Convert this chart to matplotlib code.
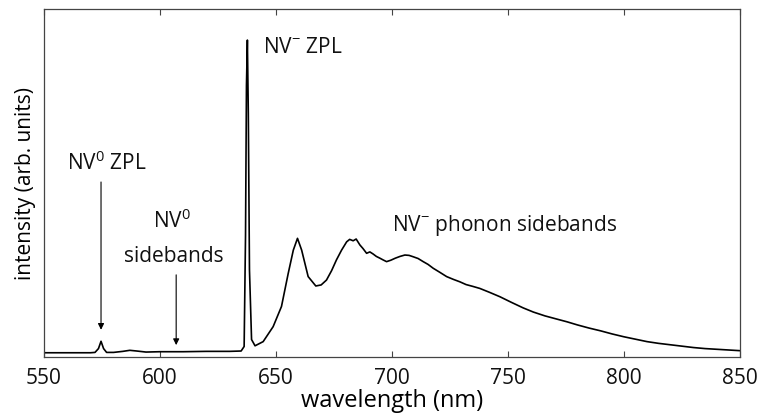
import matplotlib
matplotlib.use("Agg")
import matplotlib.pyplot as plt

# spectrum (wavelength in nm, intensity arb. units)
wavelength = [550, 560, 570, 572, 573.5, 574.6, 575.7, 577, 580, 584, 587, 590, 594,
              600, 610, 620, 630, 635, 636.3, 636.9, 637.3, 637.7, 638.1, 638.6, 639.5,
              641, 644.5, 648.8, 652.4, 655.3, 657.5, 659.3, 661.1, 663.9, 667.2, 669.5,
              671.8, 674, 676.1, 678.3, 680.5, 681.8, 683.3, 684.6, 686.2, 687.5, 689.1,
              690.5, 691.9, 693.3, 694.8, 696.2, 697.7, 699.5, 701.5, 703.5, 705.6, 707.4,
              709.2, 711.3, 713.5, 715.6, 717.8, 720.5, 723.6, 726.5, 729.3, 732, 734.8,
              737.9, 742, 746.6, 751.5, 756.6, 761, 766, 771, 775.5, 780, 785, 790,
              795, 800, 805, 810, 815, 820, 825, 830, 835, 840, 845, 850]
intensity = [0.012, 0.012, 0.012, 0.013, 0.024, 0.045, 0.024, 0.013, 0.013, 0.016, 0.019,
             0.017, 0.014, 0.015, 0.015, 0.016, 0.016, 0.017, 0.03, 0.35, 0.78, 0.911,
             0.70, 0.25, 0.05, 0.032, 0.044, 0.087, 0.145, 0.240, 0.307, 0.341, 0.307,
             0.231, 0.204, 0.207, 0.221, 0.248, 0.279, 0.307, 0.331, 0.338, 0.334, 0.339,
             0.322, 0.312, 0.298, 0.302, 0.296, 0.289, 0.284, 0.279, 0.274, 0.278, 0.284,
             0.289, 0.293, 0.292, 0.288, 0.283, 0.274, 0.266, 0.255, 0.244, 0.231, 0.223,
             0.216, 0.208, 0.203, 0.197, 0.186, 0.173, 0.157, 0.141, 0.129, 0.118, 0.109,
             0.101, 0.092, 0.083, 0.075, 0.066, 0.058, 0.051, 0.044, 0.039, 0.035, 0.031,
             0.027, 0.024, 0.022, 0.020, 0.018]

xticks = [550, 600, 650, 700, 750, 800, 850]

plt.rcParams['font.family'] = ['Open Sans', 'DejaVu Sans']
plt.rcParams['mathtext.fontset'] = 'custom'
plt.rcParams['mathtext.rm'] = 'Open Sans'
plt.rcParams['mathtext.it'] = 'Open Sans:italic'

fig = plt.figure(figsize=(7.58, 4.16), dpi=100)
ax = fig.add_axes([0.058, 0.142, 0.918, 0.836])

ax.plot(wavelength, intensity, color='black', lw=1.2)

ax.set_xlim(550, 850)
ax.set_ylim(0, 1)
ax.set_xticks(xticks)
ax.set_yticks([])
ax.tick_params(axis='x', direction='in', length=4, width=0.8, top=True,
               labelsize=15, labelcolor='#111111', color='#444444', pad=8)
for s in ax.spines.values():
    s.set_linewidth(0.9)
    s.set_color('#444444')

ax.set_xlabel('wavelength (nm)', fontsize=17, labelpad=0)
ax.set_ylabel('intensity (arb. units)', fontsize=15, labelpad=6)

txt = dict(fontsize=15, color='#111111')
arr = dict(arrowstyle='-|>', color='black', lw=0.8, mutation_scale=9, shrinkA=0, shrinkB=0)

# NV0 zero phonon line
ax.text(577.2, 0.557, r'NV$^{\mathrm{0}}$ ZPL', ha='center', va='center', **txt)
ax.annotate('', xy=(574.6, 0.078), xytext=(574.6, 0.503), arrowprops=arr)

# NV0 sidebands
ax.text(605.2, 0.39, r'NV$^{\mathrm{0}}$', ha='center', va='center', **txt)
ax.text(605.8, 0.29, 'sidebands', ha='center', va='center', **txt)
ax.annotate('', xy=(607, 0.034), xytext=(607, 0.236), arrowprops=arr)

# NV- zero phonon line
ax.text(644.4, 0.89, r'NV$^{-}$ ZPL', ha='left', va='center', **txt)

# NV- phonon sidebands
ax.text(700, 0.379, r'NV$^{-}$ phonon sidebands', ha='left', va='center', **txt)

fig.savefig('out.png', dpi=100)
